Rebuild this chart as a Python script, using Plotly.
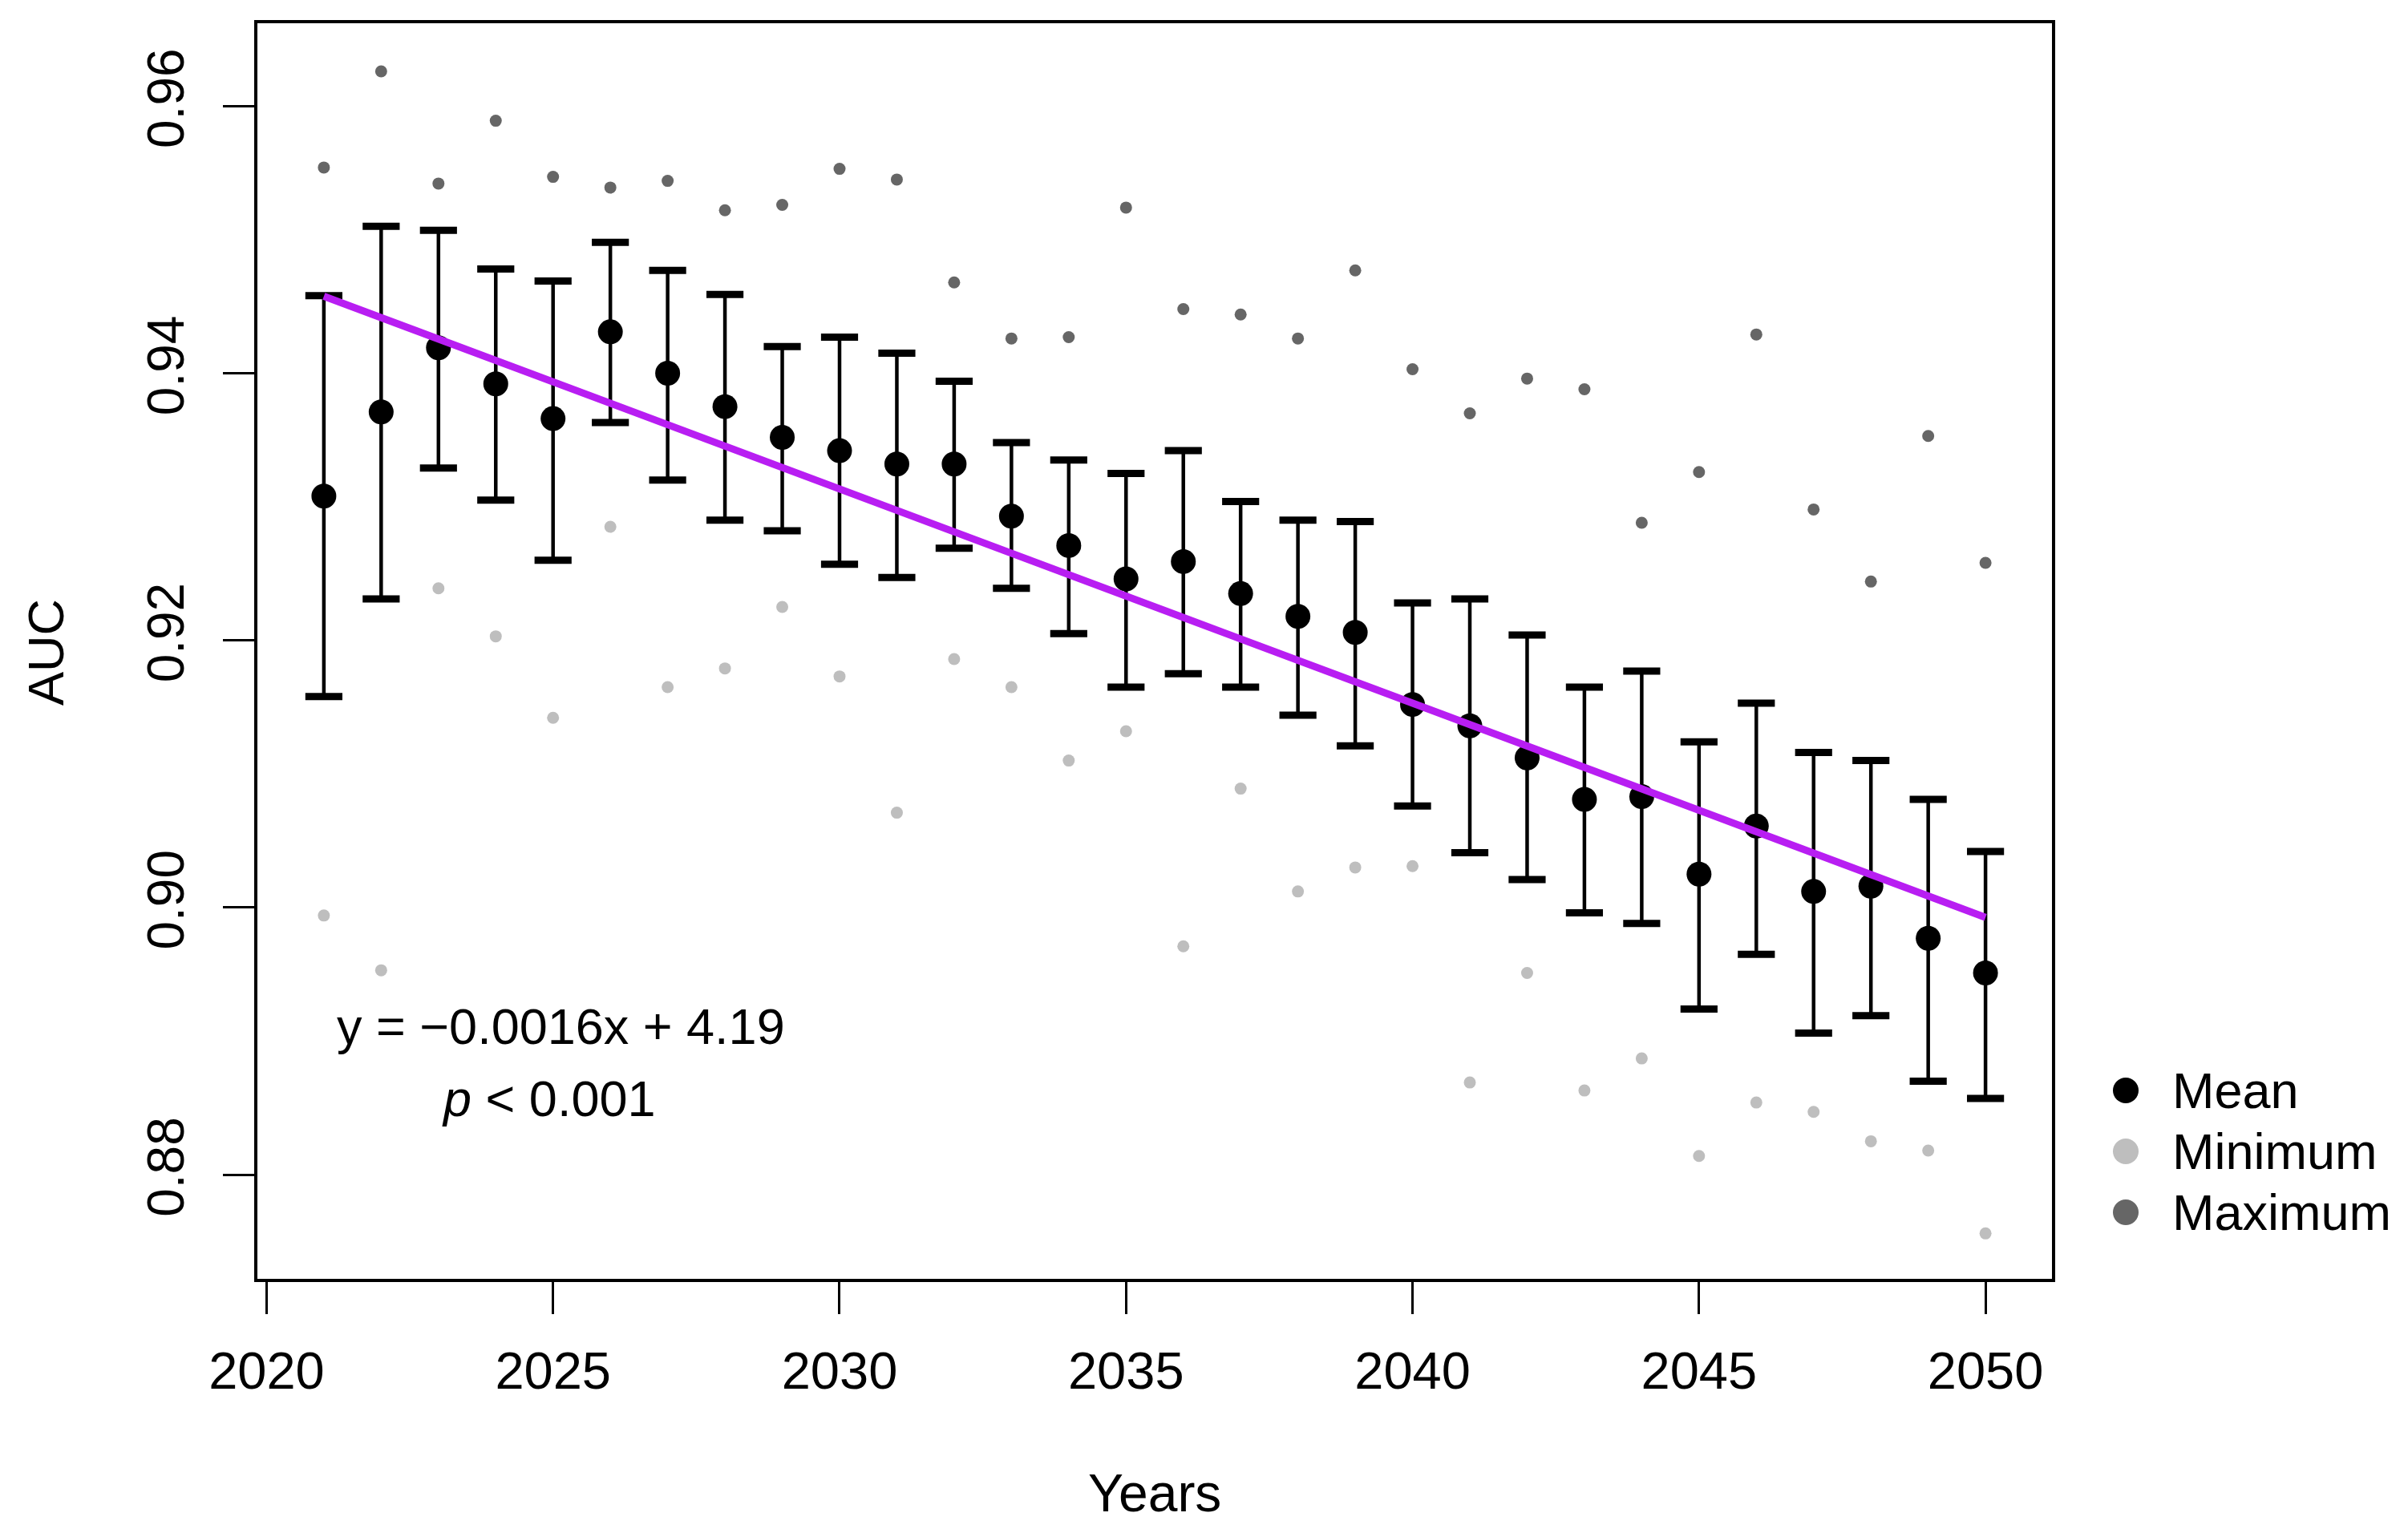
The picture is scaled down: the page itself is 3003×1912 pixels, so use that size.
import numpy as np
import plotly.graph_objects as go

years = list(range(2021, 2051))
mean_auc = [0.9308, 0.9371, 0.9419, 0.9392, 0.9366, 0.9431, 0.9400, 0.9375, 0.9352, 0.9342,
            0.9332, 0.9332, 0.9293, 0.9271, 0.9246, 0.9259, 0.9235, 0.9218, 0.9206, 0.9152,
            0.9136, 0.9112, 0.9081, 0.9083, 0.9025, 0.9061, 0.9012, 0.9016, 0.8977, 0.8951]
upper_auc = [0.9458, 0.9510, 0.9507, 0.9478, 0.9469, 0.9498, 0.9477, 0.9459, 0.9420, 0.9427,
             0.9415, 0.9394, 0.9348, 0.9335, 0.9325, 0.9342, 0.9304, 0.9290, 0.9289, 0.9228,
             0.9231, 0.9204, 0.9165, 0.9177, 0.9124, 0.9153, 0.9116, 0.9110, 0.9081, 0.9042]
lower_auc = [0.9158, 0.9231, 0.9329, 0.9305, 0.9260, 0.9363, 0.9320, 0.9290, 0.9282, 0.9257,
             0.9247, 0.9269, 0.9239, 0.9205, 0.9165, 0.9175, 0.9165, 0.9144, 0.9121, 0.9076,
             0.9041, 0.9021, 0.8996, 0.8988, 0.8924, 0.8965, 0.8906, 0.8919, 0.8870, 0.8857]
max_auc = [0.9554, 0.9626, 0.9542, 0.9589, 0.9547, 0.9539, 0.9544, 0.9522, 0.9526, 0.9553,
           0.9545, 0.9468, 0.9426, 0.9427, 0.9524, 0.9448, 0.9444, 0.9426, 0.9477, 0.9403,
           0.9370, 0.9396, 0.9388, 0.9288, 0.9326, 0.9429, 0.9298, 0.9244, 0.9353, 0.9258]
min_auc = [0.8994, 0.8953, 0.9239, 0.9203, 0.9142, 0.9285, 0.9165, 0.9179, 0.9225, 0.9173,
           0.9071, 0.9186, 0.9165, 0.9110, 0.9132, 0.8971, 0.9089, 0.9012, 0.9030, 0.9031,
           0.8869, 0.8951, 0.8863, 0.8887, 0.8814, 0.8854, 0.8847, 0.8825, 0.8818, 0.8756]
x_ticks = [2020, 2025, 2030, 2035, 2040, 2045, 2050]
y_ticks = [0.88, 0.90, 0.92, 0.94, 0.96]
y_tick_labels = ["0.88", "0.90", "0.92", "0.94", "0.96"]
legend_labels = ["Mean", "Minimum", "Maximum"]
equation_text = "y = \u22120.0016x + 4.19"
p_text = "<i>p</i> < 0.001"

FONT = "Liberation Sans, Arial, sans-serif"
MAX_COL = "#666666"
MIN_COL = "#BEBEBE"
LINE_COL = "#B81EF2"

yrs = np.array(years, dtype=float)
means = np.array(mean_auc)
up = np.array(upper_auc)
lo = np.array(lower_auc)
slope, intercept = np.polyfit(yrs, means, 1)
fit_x = [yrs[0], yrs[-1]]
fit_y = [intercept + slope * v for v in fit_x]

fig = go.Figure()
fig.add_trace(go.Scatter(x=years, y=min_auc, mode="markers",
                         marker=dict(size=15, color=MIN_COL), showlegend=False))
fig.add_trace(go.Scatter(x=years, y=max_auc, mode="markers",
                         marker=dict(size=15, color=MAX_COL), showlegend=False))
fig.add_trace(go.Scatter(x=years, y=mean_auc, mode="markers",
                         marker=dict(size=31, color="black"),
                         error_y=dict(type="data", symmetric=False,
                                      array=list(up - means), arrayminus=list(means - lo),
                                      color="black", thickness=4.5, width=0),
                         showlegend=False))
fig.add_trace(go.Scatter(x=years + years, y=upper_auc + lower_auc, mode="markers",
                         marker=dict(symbol="line-ew", size=33,
                                     line=dict(color="black", width=9)),
                         showlegend=False))
fig.add_trace(go.Scatter(x=fit_x, y=fit_y, mode="lines",
                         line=dict(color=LINE_COL, width=9), showlegend=False))

# page is 3003x1912; the browser body has an 8px margin, so the figure is
# made 16px smaller and all positions below are given in page pixels.
PAGE_W, PAGE_H = 3003, 1912
OFF = 8
W, H = PAGE_W - 2 * OFF, PAGE_H - 2 * OFF
L, R, T, B = 321, 2559, 29, 1595  # plot area in page pixels
pw, ph = R - L, B - T

def px_x(x):
    return (x - L) / pw

def px_y(y):
    return (B - y) / ph

# legend (drawn manually)
leg_cols = ["black", MIN_COL, MAX_COL]
leg_y = [1360, 1436, 1512]
rad = 16
for lab, col, yy in zip(legend_labels, leg_cols, leg_y):
    fig.add_shape(type="circle", xref="paper", yref="paper",
                  x0=px_x(2651 - rad), x1=px_x(2651 + rad),
                  y0=px_y(yy + rad), y1=px_y(yy - rad),
                  fillcolor=col, line=dict(width=0))
    fig.add_annotation(text=lab, xref="paper", yref="paper",
                       x=px_x(2707), y=px_y(yy), xanchor="left", yanchor="middle",
                       showarrow=False, font=dict(family=FONT, size=63, color="black"))

fig.add_annotation(text=equation_text, x=2025.14, y=0.8911, xref="x", yref="y",
                   showarrow=False, xanchor="center", yanchor="middle",
                   font=dict(family=FONT, size=63, color="black"))
fig.add_annotation(text=p_text, x=2024.92, y=0.8857, xref="x", yref="y",
                   showarrow=False, xanchor="center", yanchor="middle",
                   font=dict(family=FONT, size=63, color="black"))

# axis titles
fig.add_annotation(text="Years", xref="paper", yref="paper",
                   x=px_x(1440), y=px_y(1862), xanchor="center", yanchor="middle",
                   showarrow=False, font=dict(family=FONT, size=66, color="black"))
fig.add_annotation(text="AUC", xref="paper", yref="paper",
                   x=px_x(57), y=px_y(814), xanchor="center", yanchor="middle",
                   textangle=-90, showarrow=False,
                   font=dict(family=FONT, size=63, color="black"))

fig.update_layout(
    width=W, height=H,
    margin=dict(l=L - OFF, r=PAGE_W - R - OFF, t=T - OFF, b=PAGE_H - B - OFF, pad=0),
    paper_bgcolor="white", plot_bgcolor="white",
    font=dict(family=FONT, size=64, color="black"),
    showlegend=False,
)
fig.update_xaxes(range=[2019.84, 2051.16], tickvals=x_ticks,
                 ticks="outside", ticklen=40, tickwidth=3, tickcolor="black",
                 showline=True, linewidth=4, linecolor="black", mirror=True,
                 showgrid=False, zeroline=False, ticklabelstandoff=15,
                 tickfont=dict(family=FONT, size=65, color="black"))
fig.update_yaxes(range=[0.8722, 0.9662], tickvals=y_ticks, ticktext=y_tick_labels,
                 ticks="outside", ticklen=39, tickwidth=3, tickcolor="black",
                 showline=True, linewidth=4, linecolor="black", mirror=True,
                 showgrid=False, zeroline=False, tickangle=-90, ticklabelstandoff=23,
                 tickfont=dict(family=FONT, size=64, color="black"))

fig.write_html("out.html")
